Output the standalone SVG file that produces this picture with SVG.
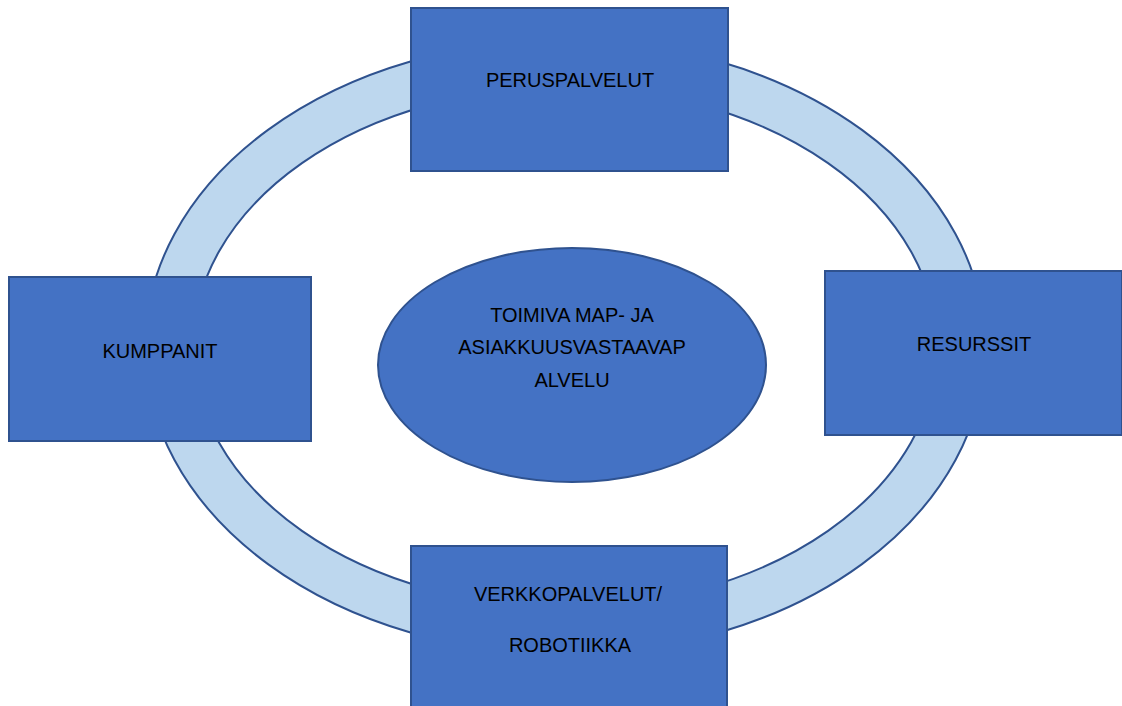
<svg xmlns="http://www.w3.org/2000/svg" width="1122" height="706" viewBox="0 0 1122 706">
<style>
.box{fill:#4472C4;stroke:#2F528F;stroke-width:2}
.ring{stroke:#2F528F;stroke-width:2}
.t{font-family:"Liberation Sans",Arial,sans-serif;font-size:20px;fill:#000;text-anchor:middle}
</style>
<rect width="1122" height="706" fill="#fff"/>
<g id="connectors">
<g id="ring">
<ellipse class="ring" cx="565" cy="347" rx="420" ry="307" fill="#BDD7EE"/>
<ellipse class="ring" cx="565" cy="347" rx="372" ry="260" fill="#fff"/>
</g>
</g>
<g id="center">
<ellipse class="box" cx="572" cy="365" rx="194" ry="117"/>
<text class="t" x="572" y="322">TOIMIVA MAP- JA</text>
<text class="t" x="572" y="354">ASIAKKUUSVASTAAVAP</text>
<text class="t" x="572" y="387">ALVELU</text>
</g>
<g id="peruspalvelut">
<rect class="box" x="411" y="8" width="317" height="163"/>
<text class="t" x="570" y="87">PERUSPALVELUT</text>
</g>
<g id="kumppanit">
<rect class="box" x="9" y="277" width="302" height="164"/>
<text class="t" x="160" y="358">KUMPPANIT</text>
</g>
<g id="resurssit">
<rect class="box" x="825" y="271" width="297" height="164"/>
<text class="t" x="974" y="351">RESURSSIT</text>
</g>
<g id="verkkopalvelut">
<rect class="box" x="411" y="546" width="316" height="170"/>
<text class="t" x="568" y="601">VERKKOPALVELUT/</text>
<text class="t" x="570" y="652">ROBOTIIKKA</text>
</g>
</svg>
